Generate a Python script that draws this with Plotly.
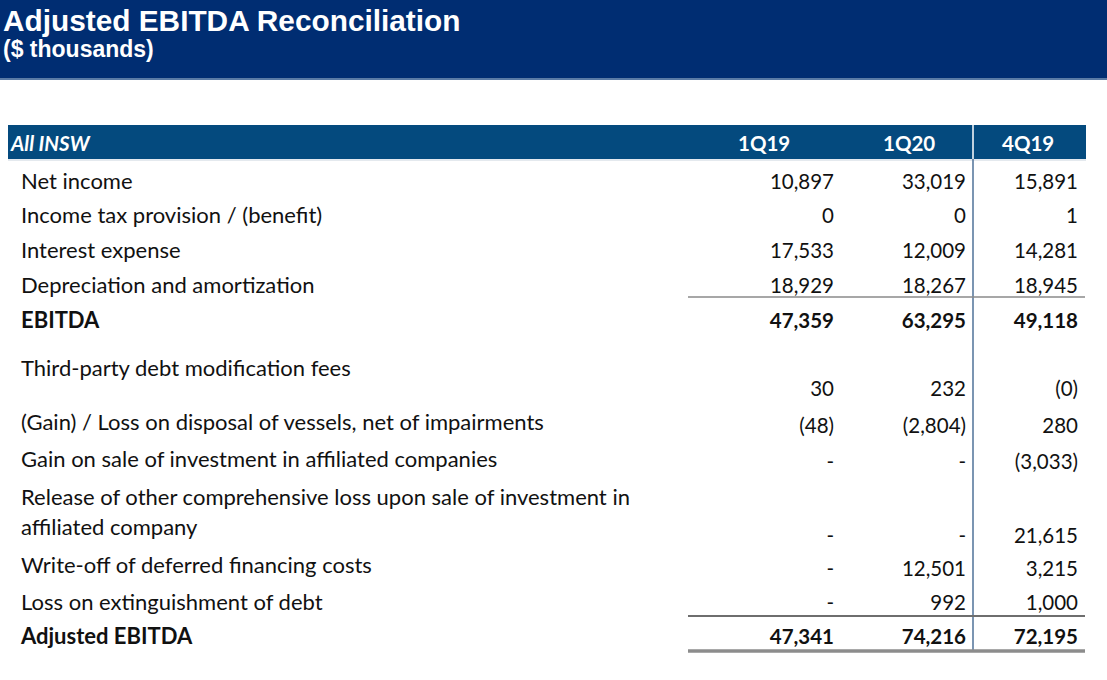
import plotly.graph_objects as go

# ---------------- data ----------------
title = "Adjusted EBITDA Reconciliation"
subtitle = "($ thousands)"
section = "All INSW"
periods = ["1Q19", "1Q20", "4Q19"]
row_labels = [
    "Net income",
    "Income tax provision / (benefit)",
    "Interest expense",
    "Depreciation and amortization",
    "EBITDA",
    "Third-party debt modification fees",
    "(Gain) / Loss on disposal of vessels, net of impairments",
    "Gain on sale of investment in affiliated companies",
    "Release of other comprehensive loss upon sale of investment in<br>affiliated company",
    "Write-off of deferred financing costs",
    "Loss on extinguishment of debt",
    "Adjusted EBITDA",
]
bold_rows = ["EBITDA", "Adjusted EBITDA"]
values_1q19 = ["10,897", "0", "17,533", "18,929", "47,359", "30", "(48)", "-", "-", "-", "-", "47,341"]
values_1q20 = ["33,019", "0", "12,009", "18,267", "63,295", "232", "(2,804)", "-", "-", "12,501", "992", "74,216"]
values_4q19 = ["15,891", "1", "14,281", "18,945", "49,118", "(0)", "280", "(3,033)", "21,615", "3,215", "1,000", "72,195"]

# ---------------- layout / style ----------------
W, H = 1107, 680
NAVY = "#002D72"
HEAD = "#044A7E"
TXT = "#111111"
BODY_FONT = "Lato, Carlito, sans-serif"
TITLE_FONT = "Liberation Sans, Arial, sans-serif"
FS_LAB = 22
FS_VAL = 20.5
DY = 2.5  # baseline correction for the body font

label_x = 21
col_right = [834, 966, 1078]
col_center = [764, 909, 1028]
label_y = [181, 215, 250, 285, 320, 368, 422, 459, 497, 565, 602, 636]
value_y = [181, 215, 250, 285, 320, 388, 425, 461, 535, 568, 602, 636]
second_line_gap = 30

fig = go.Figure()

lx, ly, lt = [], [], []
for lab, y in zip(row_labels, label_y):
    parts = lab.split("<br>")
    for k, p in enumerate(parts):
        lx.append(label_x)
        ly.append(y + DY + k * second_line_gap)
        lt.append(f"<b>{p}</b>" if lab in bold_rows else p)
fig.add_trace(go.Scatter(x=lx, y=ly, text=lt, mode="text", textposition="middle right",
                         textfont=dict(family=BODY_FONT, size=FS_LAB, color=TXT),
                         hoverinfo="skip", showlegend=False))

for ci, vals in enumerate([values_1q19, values_1q20, values_4q19]):
    txt = [f"<b>{v}</b>" if row_labels[i] in bold_rows else v for i, v in enumerate(vals)]
    fig.add_trace(go.Scatter(x=[col_right[ci]] * len(vals), y=[v + DY for v in value_y], text=txt,
                             mode="text", textposition="middle left",
                             textfont=dict(family=BODY_FONT, size=FS_VAL, color=TXT),
                             hoverinfo="skip", showlegend=False))

shapes = [
    dict(type="rect", x0=0, x1=W, y0=0, y1=78, fillcolor=NAVY, line_width=0, layer="below"),
    dict(type="line", x0=0, x1=W, y0=79, y1=79, line=dict(color="#5A7BA6", width=2)),
    dict(type="rect", x0=8, x1=1086, y0=125, y1=159, fillcolor=HEAD, line_width=0, layer="below"),
    dict(type="line", x0=8, x1=1086, y0=160, y1=160, line=dict(color="#C9D3DE", width=1)),
    dict(type="line", x0=973, x1=973, y0=159, y1=652, line=dict(color="#4F7299", width=1.5)),
    dict(type="line", x0=973, x1=973, y0=125, y1=159, line=dict(color="#FFFFFF", width=1.5)),
    dict(type="line", x0=688, x1=1085, y0=297, y1=297, line=dict(color="#8A8A8A", width=1.5)),
    dict(type="line", x0=688, x1=1085, y0=616, y1=616, line=dict(color="#6E6E6E", width=2)),
    dict(type="line", x0=688, x1=1085, y0=651, y1=651, line=dict(color="#8C8C8C", width=3.5)),
]

annotations = [
    dict(x=1, y=20, text=f"<b>{title}</b>", showarrow=False, xanchor="left", yanchor="middle",
         font=dict(family=TITLE_FONT, size=29.8, color="white")),
    dict(x=1, y=49, text=f"<b>{subtitle}</b>", showarrow=False, xanchor="left", yanchor="middle",
         font=dict(family=TITLE_FONT, size=23, color="white")),
    dict(x=8, y=143, text=f"<b><i>{section}</i></b>", showarrow=False, xanchor="left", yanchor="middle",
         font=dict(family=BODY_FONT, size=FS_VAL, color="white")),
]
for c, p in zip(col_center, periods):
    annotations.append(dict(x=c, y=143, text=f"<b>{p}</b>", showarrow=False, xanchor="center",
                            yanchor="middle", font=dict(family=BODY_FONT, size=FS_VAL, color="white")))

fig.update_layout(
    width=W, height=H,
    margin=dict(l=0, r=0, t=0, b=0),
    paper_bgcolor="white", plot_bgcolor="white",
    xaxis=dict(range=[0, W], visible=False, fixedrange=True),
    yaxis=dict(range=[H, 0], visible=False, fixedrange=True),
    shapes=shapes,
    annotations=annotations,
)

fig.write_html("out.html", config={"displayModeBar": False},
               post_script="document.body.style.margin='0';")
